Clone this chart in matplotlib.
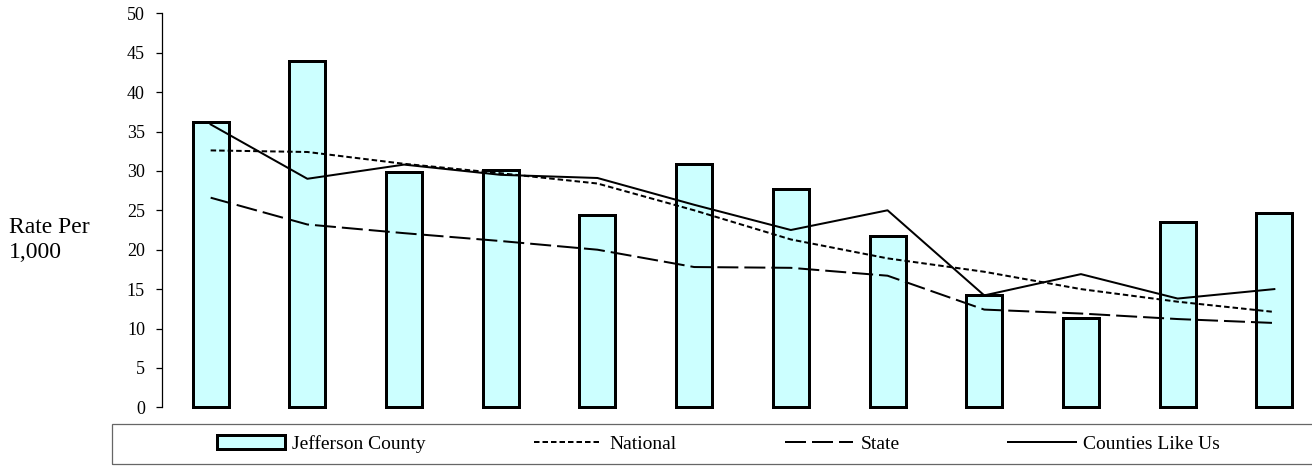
import matplotlib
matplotlib.use("Agg")
import matplotlib.pyplot as plt
from matplotlib.patches import Rectangle, Patch
from matplotlib.lines import Line2D
import numpy as np

plt.rcParams['font.family'] = ['Liberation Serif', 'DejaVu Serif']

categories = [str(i) for i in range(1, 13)]
jefferson = [36.2, 44.0, 29.9, 30.1, 24.4, 30.9, 27.7, 21.7, 14.2, 11.3, 23.5, 24.7]
national = [32.6, 32.4, 30.9, 29.7, 28.4, 25.0, 21.3, 18.9, 17.2, 15.0, 13.4, 12.1]
state = [26.6, 23.2, 22.1, 21.1, 20.0, 17.8, 17.7, 16.7, 12.4, 11.9, 11.2, 10.7]
counties = [35.9, 29.0, 30.8, 29.5, 29.1, 25.7, 22.5, 25.0, 14.2, 16.9, 13.8, 15.0]
yticks = list(range(0, 51, 5))

W, H = 1312, 466
fig = plt.figure(figsize=(W / 100, H / 100), dpi=100)
ax = fig.add_axes([162.3 / W, 1 - 407.3 / H, 1160.4 / W, (407.3 - 13.3) / H])

x = np.arange(len(categories))
bar_color = '#CCFFFF'
ax.bar(x, jefferson, width=0.372, color=bar_color, edgecolor='black',
       linewidth=2.16, clip_on=False, zorder=2)

lw = 1.44
nat_style = (0, (2.75, 1.5))
state_style = (0, (10.5, 3.0))
ax.plot(x, national, color='black', lw=lw, linestyle=nat_style, zorder=3)
ax.plot(x, state, color='black', lw=lw, linestyle=state_style, zorder=3)
ax.plot(x, counties, color='black', lw=lw, linestyle='-', zorder=3)

ax.set_xlim(-0.5, len(categories) - 0.5)
ax.set_ylim(0, 50)
ax.set_yticks(yticks)
ax.set_yticklabels([str(v) for v in yticks], fontsize=13)
ax.tick_params(axis='y', direction='out', length=4.5, width=0.9, pad=8)
ax.set_xticks([])
for s in ['top', 'right', 'bottom']:
    ax.spines[s].set_visible(False)
ax.spines['left'].set_linewidth(0.9)

fig.text(9 / W, 1 - 240 / H, "Rate Per\n1,000", ha='left', va='center',
         fontsize=17, linespacing=1.25, multialignment='left')

# legend frame
fig.patches.append(Rectangle((112.3 / W, 1 - 463.7 / H), 1.2, (463.7 - 424) / H,
                             transform=fig.transFigure, facecolor='none',
                             edgecolor='#666666', linewidth=0.9))

handles = [
    Patch(facecolor=bar_color, edgecolor='black', linewidth=2.16),
    Line2D([], [], color='black', lw=lw, linestyle=nat_style),
    Line2D([], [], color='black', lw=lw, linestyle=state_style),
    Line2D([], [], color='black', lw=lw, linestyle='-'),
]
labels = ['Jefferson County', 'National', 'State', 'Counties Like Us']
fig.legend(handles, labels, loc='center', bbox_to_anchor=(718.5 / W, 1 - 444 / H),
           ncol=4, frameon=False, fontsize=14, handlelength=3.5,
           handletextpad=0.36, columnspacing=5.6, borderpad=0, borderaxespad=0)

fig.savefig('out.png', dpi=100)
